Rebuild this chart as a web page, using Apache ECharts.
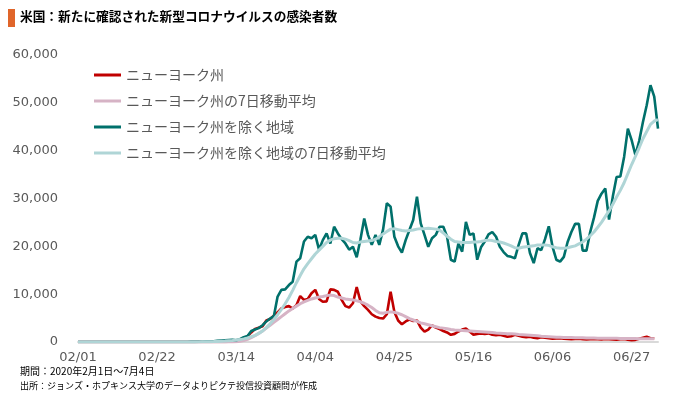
<!DOCTYPE html>
<html><head><meta charset="utf-8">
<script src="https://cdn.jsdelivr.net/npm/echarts@6/dist/echarts.min.js"></script>
<style>html,body{margin:0;padding:0;background:#fff}#c{width:680px;height:396px}</style>
</head><body><div id="c"></div>
<script>
// Categories: daily dates 2020-02-01 .. 2020-07-04
const monthDays = [["02",29],["03",31],["04",30],["05",31],["06",30],["07",4]];
const dates = [];
monthDays.forEach(([m,n]) => { for (let d = 1; d <= n; d++) dates.push(m + "/" + String(d).padStart(2,"0")); });

const seriesNames = ["ニューヨーク州","ニューヨーク州の7日移動平均","ニューヨーク州を除く地域","ニューヨーク州を除く地域の7日移動平均"];
const yTicks = [0,10000,20000,30000,40000,50000,60000];

// NY state daily new cases
const nyDaily = [
 0,0,0,0,0,0,0,0,0,0, 0,0,0,0,0,0,0,0,0,0, 0,0,0,0,0,0,0,0,0,
 0,0,0,0,0,0,0,0,0,0, 20,40,60,100,300,700,1200,2000,2700,3000,
 3300,4500,4800,5500,6200,7000,7300,7500,7000,7700,
 9600,8800,9000,10200,10900,9000,8400,8500,11000,10900,
 10500,8800,7500,7200,8100,11500,8500,7500,6700,5800,
 5300,5000,4900,5800,10500,6300,4500,3700,4300,4700,
 4400,4500,3000,2150,2600,3500,3000,2700,2300,2000,
 1500,1700,2200,2600,2800,2200,1500,1700,1800,1700,
 1800,1500,1400,1500,1300,1100,1200,1500,1300,1100,
 1000,1100,900,800,1000,900,800,700,750,800,
 700,650,600,650,700,600,550,600,650,600,
 550,650,600,550,500,600,650,500,400,450,
 700,900,1100,800,700
];
// NY state 7-day moving average
const nyAvg = [
 0,0,0,0,0,0,0,0,0,0, 0,0,0,0,0,0,0,0,0,0, 0,0,0,0,0,0,0,0,0,
 0,0,0,0,0,0,0,0,0,0, 0,0,0,50,150,300,550,900,1300,1800,
 2300,2900,3500,4100,4700,5300,5900,6500,7000,7500,
 8000,8400,8700,9000,9200,9400,9500,9700,9800,9700,
 9400,9200,9000,8900,8800,8600,8400,8100,7700,7200,
 6600,6100,6000,6200,6300,6200,6000,5700,5300,4900,
 4600,4300,4000,3800,3600,3400,3200,3000,2900,2750,
 2600,2500,2450,2400,2350,2300,2250,2200,2150,2100,
 2050,2000,1900,1850,1800,1750,1700,1650,1550,1500,
 1450,1400,1350,1300,1200,1150,1100,1050,1000,980,
 960,940,920,900,890,880,860,840,820,800,
 790,780,780,770,760,750,740,730,720,710,
 700,700,700,700,700
];
// Rest of US daily new cases
const restDaily = [
 0,0,0,0,0,0,0,0,0,0, 0,0,0,0,0,0,0,0,0,0, 0,0,0,0,0,0,0,0,0,
 10,20,30,40,60,80,100,150,250,300, 350,400,450,350,600,1000,1250,2300,2600,2900,
 3500,4300,4900,5400,9500,10900,11000,11900,12600,16800,
 17500,21000,22000,21700,22400,19300,21300,22700,20600,24100,
 22700,21500,20600,19300,19900,17700,21500,25800,22400,20300,
 22400,20300,23500,29000,28300,22000,20000,18700,21300,23400,
 25500,30400,24800,22400,19900,21700,22400,24100,24100,22000,
 17200,16800,20600,18900,25100,22400,22700,17200,19800,21000,
 22500,23000,22000,19900,18800,18000,17800,17500,20300,22700,
 22700,18600,16500,19600,19200,21500,24200,19900,17200,16800,
 17800,20900,23000,24700,24700,19100,19100,23000,26000,29500,
 31000,32100,25600,30400,34500,34600,38700,44600,42200,39100,
 42000,46000,49500,53700,51300,44600
];
// Rest of US 7-day moving average
const restAvg = [
 0,0,0,0,0,0,0,0,0,0, 0,0,0,0,0,0,0,0,0,0, 0,0,0,0,0,0,0,0,0,
 5,10,15,20,30,40,50,80,120,170, 220,280,330,400,500,650,850,1100,1400,1800,
 2300,3000,3800,4700,5700,6800,8000,9300,10800,12400,
 13900,15300,16400,17400,18400,19200,20000,20800,21300,21600,
 21700,21700,21500,21200,20800,20700,20900,21000,21100,21200,
 21500,22000,22600,23100,23600,23700,23500,23300,23200,23300,
 23400,23600,23700,23700,23800,23700,23600,23400,22800,22100,
 21500,21000,20900,20800,20800,20800,20900,20900,21000,21200,
 21300,21200,21000,20900,20700,20400,20100,19700,19600,19800,
 19900,20000,20100,20300,20300,20300,20200,19900,19700,19600,
 19600,19700,19900,20100,20500,20900,21500,22200,23000,24000,
 25000,26200,27400,28800,30300,31700,33300,35200,37100,38800,
 40600,42500,44000,45500,46200,46500
];

const colors = ["#C00000","#D6B3C5","#00706B","#AFD5D6"];
const widths = [2.6, 3, 2.6, 3];
const dataSets = [nyDaily, nyAvg, restDaily, restAvg];

const chart = echarts.init(document.getElementById("c"), null, {renderer:"canvas"});
chart.setOption({
  animation: false,
  backgroundColor: "#fff",
  grid: {left: 78, right: 22, top: 55, bottom: 54, containLabel: false},
  legend: {
    orient: "vertical", left: 94, top: 67, padding: 0,
    icon: "rect", itemWidth: 27, itemHeight: 3, itemGap: 10,
    textStyle: {fontSize: 14, lineHeight: 16, color: "#595959", fontFamily: "Noto Sans CJK JP"},
    data: seriesNames
  },
  xAxis: {
    type: "category", data: dates, boundaryGap: false,
    axisLine: {show: true, lineStyle: {color: "#D9D9D9", width: 2}},
    axisTick: {show: false},
    axisLabel: {interval: 20, fontSize: 13, color: "#595959", margin: 9, fontFamily: "DejaVu Sans"},
    splitLine: {show: false}
  },
  yAxis: {
    type: "value", min: yTicks[0], max: yTicks[yTicks.length-1], interval: 10000,
    axisLine: {show: false}, axisTick: {show: false}, splitLine: {show: false},
    axisLabel: {fontSize: 13, color: "#595959", margin: 20, fontFamily: "DejaVu Sans",
      formatter: v => v.toLocaleString("en-US")}
  },
  series: seriesNames.map((n, i) => ({
    name: n, type: "line", data: dataSets[i], showSymbol: false, symbol: "none",
    lineStyle: {color: colors[i], width: widths[i]}, itemStyle: {color: colors[i]},
    z: 2 + i
  })),
  graphic: [
    {type: "rect", left: 8, top: 9, shape: {width: 7, height: 18}, style: {fill: "#E0652A"}},
    {type: "text", left: 20, top: 10, style: {text: "米国：新たに確認された新型コロナウイルスの感染者数", fontSize: 12.7, fontWeight: "bold", fill: "#000", fontFamily: "Noto Sans CJK JP"}},
    {type: "text", left: 20, top: 366, style: {text: "期間：2020年2月1日～7月4日", fontSize: 10, fill: "#000", fontFamily: "Noto Sans CJK JP"}},
    {type: "text", left: 20, top: 381, style: {text: "出所：ジョンズ・ホプキンス大学のデータよりピクテ投信投資顧問が作成", fontSize: 9, fill: "#000", fontFamily: "Noto Sans CJK JP"}}
  ]
});
</script>
</body></html>
